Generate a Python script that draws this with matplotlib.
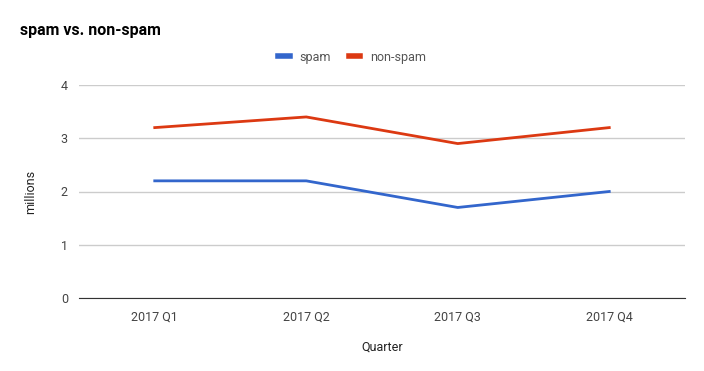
import matplotlib
matplotlib.use('Agg')
import matplotlib.pyplot as plt

plt.rcParams['font.family'] = ['Roboto', 'DejaVu Sans']

quarters = ['2017 Q1', '2017 Q2', '2017 Q3', '2017 Q4']
spam = [2.2, 2.2, 1.7, 2.0]
non_spam = [3.2, 3.4, 2.9, 3.2]

fig = plt.figure(figsize=(7.04, 3.71), dpi=100)
ax = fig.add_axes([79/704, 1 - 298/371, 606/704, 213/371])

x = range(len(quarters))
ax.plot(x, spam, color='#3366cc', lw=2, label='spam')
ax.plot(x, non_spam, color='#dc3912', lw=2, label='non-spam')

ax.set_xlim(-0.5, len(quarters) - 0.5)
ax.set_ylim(0, 4)
ax.set_yticks([0, 1, 2, 3, 4])
ax.set_xticks(list(x))
ax.set_xticklabels(quarters)
ax.grid(axis='y', color='#cccccc', lw=1)
ax.set_axisbelow(True)
for s in ['top', 'right', 'left']:
    ax.spines[s].set_visible(False)
ax.spines['bottom'].set_color('#333333')
ax.spines['bottom'].set_zorder(3)
ax.tick_params(length=0, labelsize=9, labelcolor='#444444')
ax.tick_params(axis='y', pad=8)
ax.tick_params(axis='x', pad=9)

ax.set_xlabel('Quarter', fontsize=9, color='#222222', labelpad=12)
ax.set_ylabel('millions', fontsize=9, color='#222222', labelpad=17)

fig.text(20/704, 1 - 30/371, 'spam vs. non-spam', fontsize=11.5, fontweight='bold',
         color='#000000', va='center', ha='left')
leg = fig.legend(loc='center', bbox_to_anchor=(352/704, 1 - 57/371), ncol=2, frameon=False,
                 fontsize=9, labelcolor='#555555', handlelength=0.9, handletextpad=0.8,
                 columnspacing=1.4)
for h in leg.get_lines():
    h.set_linewidth(4)

fig.savefig('out.png', dpi=100)
